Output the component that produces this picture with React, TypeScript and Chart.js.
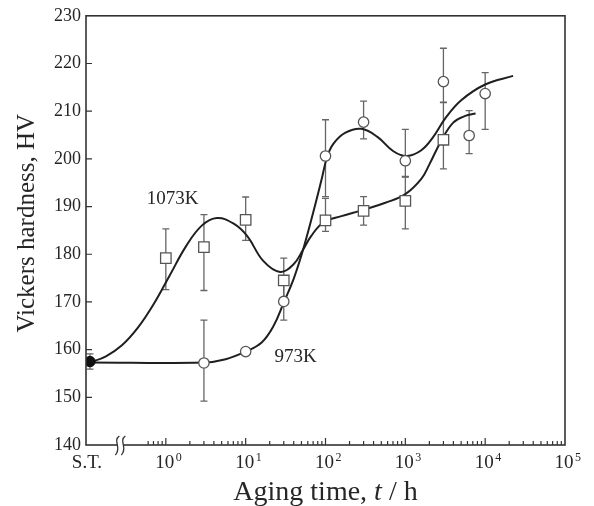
import React, { useEffect, useRef } from 'react';
import { Chart, registerables } from 'chart.js';

Chart.register(...registerables);

const FONT = "'Liberation Serif', 'Times New Roman', serif";
const INK = '#262626';
const MARK = '#555555';

// Solution-treated (S.T.) state, placed left of the axis break
const stLabel = 'S.T.';
const stPosition = -0.95; // position on the log10(t) axis
const stHardness = 157.5;
const stError = 1.6;

// 1073K (open squares)
const hours1073 = [1, 3, 10, 30, 100, 300, 1000, 3000];
const hardness1073 = [179.2, 181.5, 187.2, 174.5, 187.1, 189.1, 191.2, 204.0];
const errUp1073 = [6.1, 6.8, 4.8, 4.7, 4.6, 3.0, 5.1, 7.8];
const errDown1073 = [6.6, 9.1, 4.3, 4.7, 2.3, 3.0, 5.9, 6.1];

// 973K (open circles)
const hours973 = [3, 10, 30, 100, 300, 1000, 3000, 6300, 10000];
const hardness973 = [157.2, 159.6, 170.1, 200.6, 207.7, 199.6, 216.2, 204.9, 213.7];
const errUp973 = [9.0, 0, 4.0, 7.6, 4.4, 6.6, 7.0, 5.2, 4.4];
const errDown973 = [8.0, 0, 3.9, 8.5, 3.5, 3.4, 4.3, 3.8, 7.5];

// Fitted guide curves: knots as (log10 t, HV)
const fitLog1073 = [-0.95, -0.75, -0.55, -0.35, -0.15, 0.05, 0.25, 0.45, 0.64, 0.85, 1.02, 1.22, 1.43, 1.6, 1.72, 1.82, 1.97, 2.2, 2.45, 2.75, 3.0, 3.2, 3.3, 3.45, 3.6, 3.75, 3.88];
const fitHV1073 = [157.3, 158.6, 160.9, 164.6, 169.6, 175.6, 181.6, 186.0, 187.6, 186.4, 183.8, 178.6, 176.3, 177.9, 181.0, 183.8, 186.6, 188.0, 189.2, 190.8, 192.6, 195.8, 198.8, 203.8, 207.6, 209.0, 209.5];
const fitLog973 = [-0.95, 0.477, 0.75, 1.0, 1.2, 1.35, 1.48, 1.6, 1.72, 1.85, 1.95, 2.02, 2.1, 2.25, 2.45, 2.65, 2.85, 3.02, 3.2, 3.35, 3.5, 3.7, 4.0, 4.35];
const fitHV973 = [157.3, 157.3, 158.0, 159.6, 161.5, 165.0, 170.0, 174.8, 181.0, 189.0, 195.6, 200.4, 203.2, 205.5, 206.3, 204.6, 201.6, 200.6, 201.8, 204.6, 208.5, 212.3, 215.6, 217.4];

// Axis
const xMinLog = -1;
const xMaxLog = 5;
const breakPosition = -0.57;
const decadeExponents = [0, 1, 2, 3, 4, 5];
const superscripts = ['0', '1', '2', '3', '4', '5'];
const yMin = 140;
const yMax = 230;
const yStep = 10;

// Curve labels: [log10 t, HV]
const label1073 = { text: '1073K', at: [0.085, 190.5] };
const label973 = { text: '973K', at: [1.36, 157.35] };

const xTitleParts = [
  { text: 'Aging time, ', italic: false },
  { text: 't', italic: true },
  { text: ' / h', italic: false },
];
const yTitle = 'Vickers hardness, HV';

const toPts = (xs: number[], ys: number[]) => xs.map((x, i) => ({ x, y: ys[i] }));

const decorPlugin = {
  id: 'decor',
  beforeDatasetsDraw(chart: any) {
    const { ctx } = chart;
    const xs = chart.scales.x;
    const ys = chart.scales.y;
    ctx.save();
    ctx.strokeStyle = '#666';
    ctx.lineWidth = 1.3;
    const bar = (lx: number, v: number, up: number, dn: number) => {
      if (!up && !dn) return;
      const px = xs.getPixelForValue(lx);
      const top = ys.getPixelForValue(v + up);
      const bot = ys.getPixelForValue(v - dn);
      ctx.beginPath();
      ctx.moveTo(px, top);
      ctx.lineTo(px, bot);
      ctx.moveTo(px - 3.5, top);
      ctx.lineTo(px + 3.5, top);
      ctx.moveTo(px - 3.5, bot);
      ctx.lineTo(px + 3.5, bot);
      ctx.stroke();
    };
    hours1073.forEach((h, i) => bar(Math.log10(h), hardness1073[i], errUp1073[i], errDown1073[i]));
    hours973.forEach((h, i) => bar(Math.log10(h), hardness973[i], errUp973[i], errDown973[i]));
    bar(stPosition, stHardness, stError, stError);
    ctx.restore();
  },
  afterDraw(chart: any) {
    const { ctx, chartArea } = chart;
    const { left, right, top, bottom } = chartArea;
    const xs = chart.scales.x;
    const ys = chart.scales.y;
    ctx.save();

    // frame
    ctx.strokeStyle = '#333';
    ctx.lineWidth = 1.6;
    ctx.strokeRect(left, top, right - left, bottom - top);

    // inward ticks
    ctx.lineWidth = 1.2;
    ctx.beginPath();
    for (let n = -1; n <= 4; n++) {
      for (let k = 1; k <= 9; k++) {
        const v = n + Math.log10(k);
        if (v < -0.25 || v <= xMinLog || v >= xMaxLog) continue;
        const px = xs.getPixelForValue(v);
        const len = k === 1 ? 7 : 4;
        ctx.moveTo(px, bottom);
        ctx.lineTo(px, bottom - len);
      }
    }
    for (let v = yMin + yStep; v < yMax; v += yStep) {
      const py = ys.getPixelForValue(v);
      ctx.moveTo(left, py);
      ctx.lineTo(left + 6, py);
    }
    ctx.stroke();

    // axis break
    const bx = xs.getPixelForValue(breakPosition);
    ctx.fillStyle = '#fff';
    ctx.fillRect(bx - 3, bottom - 2, 6, 4);
    ctx.strokeStyle = '#333';
    ctx.lineWidth = 1.3;
    for (const dx of [-3, 3]) {
      const cx = bx + dx;
      ctx.beginPath();
      ctx.moveTo(cx + 2, bottom - 9);
      ctx.bezierCurveTo(cx - 5, bottom - 4, cx + 5, bottom + 3, cx - 2, bottom + 10);
      ctx.stroke();
    }

    // x tick labels
    ctx.fillStyle = INK;
    ctx.textBaseline = 'alphabetic';
    decadeExponents.forEach((e, i) => {
      const px = xs.getPixelForValue(e);
      ctx.font = `19px ${FONT}`;
      const w = ctx.measureText('10').width;
      ctx.textAlign = 'left';
      ctx.fillText('10', px - w / 2 - 1, bottom + 22.5);
      ctx.font = `12px ${FONT}`;
      ctx.fillText(superscripts[i], px + w / 2 + 0.5, bottom + 15.5);
    });
    ctx.font = `19px ${FONT}`;
    ctx.textAlign = 'center';
    ctx.fillText(stLabel, xs.getPixelForValue(stPosition) - 3, bottom + 22.5);

    // x title
    const widths = xTitleParts.map((p) => {
      ctx.font = `${p.italic ? 'italic ' : ''}28px ${FONT}`;
      return ctx.measureText(p.text).width;
    });
    const total = widths.reduce((a, b) => a + b, 0);
    let tx = (left + right) / 2 - total / 2;
    ctx.textAlign = 'left';
    xTitleParts.forEach((p, i) => {
      ctx.font = `${p.italic ? 'italic ' : ''}28px ${FONT}`;
      ctx.fillText(p.text, tx, bottom + 54.5);
      tx += widths[i];
    });

    // y title (rotated)
    ctx.save();
    ctx.translate(34, ys.getPixelForValue(186.5));
    ctx.rotate(-Math.PI / 2);
    ctx.font = `25px ${FONT}`;
    ctx.textAlign = 'center';
    ctx.textBaseline = 'alphabetic';
    ctx.fillText(yTitle, 0, 0);
    ctx.restore();

    // curve labels
    ctx.font = `19px ${FONT}`;
    ctx.textAlign = 'center';
    ctx.fillText(label1073.text, xs.getPixelForValue(label1073.at[0]), ys.getPixelForValue(label1073.at[1]));
    ctx.textAlign = 'left';
    ctx.fillText(label973.text, xs.getPixelForValue(label973.at[0]), ys.getPixelForValue(label973.at[1]));

    ctx.restore();
  },
};

export default function App() {
  const canvasRef = useRef<HTMLCanvasElement | null>(null);

  useEffect(() => {
    const canvas = canvasRef.current;
    if (!canvas) return;
    const chart = new Chart(canvas, {
      type: 'line',
      data: {
        datasets: [
          {
            label: 'S.T.',
            data: [{ x: stPosition, y: stHardness }],
            showLine: false,
            pointStyle: 'circle',
            pointRadius: 5.2,
            pointBackgroundColor: '#111',
            pointBorderColor: '#111',
            pointBorderWidth: 1,
          },
          {
            label: '1073K data',
            data: toPts(hours1073.map((h) => Math.log10(h)), hardness1073),
            showLine: false,
            pointStyle: 'rect',
            pointRadius: 7.4,
            pointBackgroundColor: '#fff',
            pointBorderColor: MARK,
            pointBorderWidth: 1.3,
          },
          {
            label: '973K data',
            data: toPts(hours973.map((h) => Math.log10(h)), hardness973),
            showLine: false,
            pointStyle: 'circle',
            pointRadius: 5.2,
            pointBackgroundColor: '#fff',
            pointBorderColor: MARK,
            pointBorderWidth: 1.3,
          },
          {
            label: '1073K fit',
            data: toPts(fitLog1073, fitHV1073),
            borderColor: '#1f1f1f',
            borderWidth: 2,
            pointRadius: 0,
            tension: 0.4,
            fill: false,
          },
          {
            label: '973K fit',
            data: toPts(fitLog973, fitHV973),
            borderColor: '#1f1f1f',
            borderWidth: 2,
            pointRadius: 0,
            tension: 0.4,
            fill: false,
          },
        ],
      },
      options: {
        responsive: false,
        animation: false,
        events: [],
        layout: { padding: { left: 0, right: 29, top: 12.5, bottom: 0 } },
        plugins: {
          legend: { display: false },
          tooltip: { enabled: false },
        },
        scales: {
          x: {
            type: 'linear',
            min: xMinLog,
            max: xMaxLog,
            grid: { display: false, drawTicks: false },
            border: { display: false },
            ticks: { display: false },
            afterFit: (scale: any) => {
              scale.height = 61;
            },
          },
          y: {
            type: 'linear',
            min: yMin,
            max: yMax,
            grid: { display: false, drawTicks: false },
            border: { display: false },
            ticks: {
              stepSize: yStep,
              padding: 5,
              color: INK,
              font: { family: FONT, size: 18 },
            },
            afterFit: (scale: any) => {
              scale.width = 86;
            },
          },
        },
      },
      plugins: [decorPlugin],
    } as any);
    return () => chart.destroy();
  }, []);

  return (
    <div style={{ position: 'fixed', left: 0, top: 0, width: 594, height: 506, background: '#fff' }}>
      <canvas ref={canvasRef} width={594} height={506} style={{ display: 'block' }} />
    </div>
  );
}
